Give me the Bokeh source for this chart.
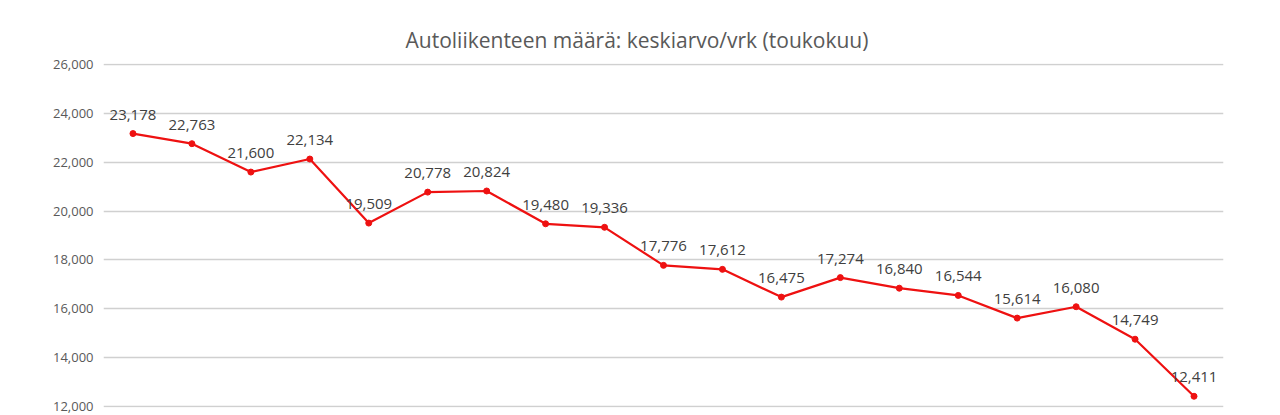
from bokeh.plotting import figure
from bokeh.models import ColumnDataSource, FactorRange, Range1d, FixedTicker, NumeralTickFormatter, LabelSet
from bokeh.core.properties import value
from bokeh.embed import file_html
from bokeh.resources import INLINE

categories = [str(i) for i in range(1, 20)]
values = [23178, 22763, 21600, 22134, 19509, 20778, 20824, 19480, 19336, 17776,
          17612, 16475, 17274, 16840, 16544, 15614, 16080, 14749, 12411]
labels = [f"{v:,}" for v in values]
y_ticks = [12000, 14000, 16000, 18000, 20000, 22000, 24000, 26000]

src = ColumnDataSource(dict(x=categories, y=values, label=labels))

p = figure(width=1272, height=415, x_range=FactorRange(*categories, range_padding=0),
           y_range=Range1d(11950, 26050), output_backend="svg", toolbar_location=None,
           title="Autoliikenteen määrä: keskiarvo/vrk (toukokuu)",
           min_border_left=103, min_border_right=49, min_border_top=63, min_border_bottom=8)
p.x_range.range_padding = 0
p.title.align = "left"
p.title.text_font = "Open Sans"
p.title.text_font_size = "21px"
p.title.text_font_style = "normal"
p.title.text_color = "#595959"
p.title.offset = 302
p.title.standoff = 19

p.outline_line_color = None
p.xaxis.visible = False
p.xgrid.grid_line_color = None
p.ygrid.grid_line_color = "#d0d0d0"
p.ygrid.grid_line_width = 1.5
p.yaxis.ticker = FixedTicker(ticks=y_ticks)
p.yaxis.formatter = NumeralTickFormatter(format="0,0")
p.yaxis.axis_line_color = None
p.yaxis.major_tick_line_color = None
p.yaxis.minor_tick_line_color = None
p.yaxis.major_label_text_font = "Open Sans"
p.yaxis.major_label_text_font_size = "13px"
p.yaxis.major_label_text_color = "#595959"
p.yaxis.major_label_standoff = 4

p.line("x", "y", source=src, line_color="#ee1111", line_width=2.2)
p.scatter("x", "y", source=src, size=6, fill_color="#ee1111", line_color="#ee1111")

lbl = LabelSet(x="x", y="y", text="label", source=src, text_align="center",
               text_baseline="bottom", y_offset=14, text_font=value("Open Sans"),
               text_font_size="15px", text_color="#404040")
p.add_layout(lbl)

open("out.html", "w").write(file_html(p, INLINE))
